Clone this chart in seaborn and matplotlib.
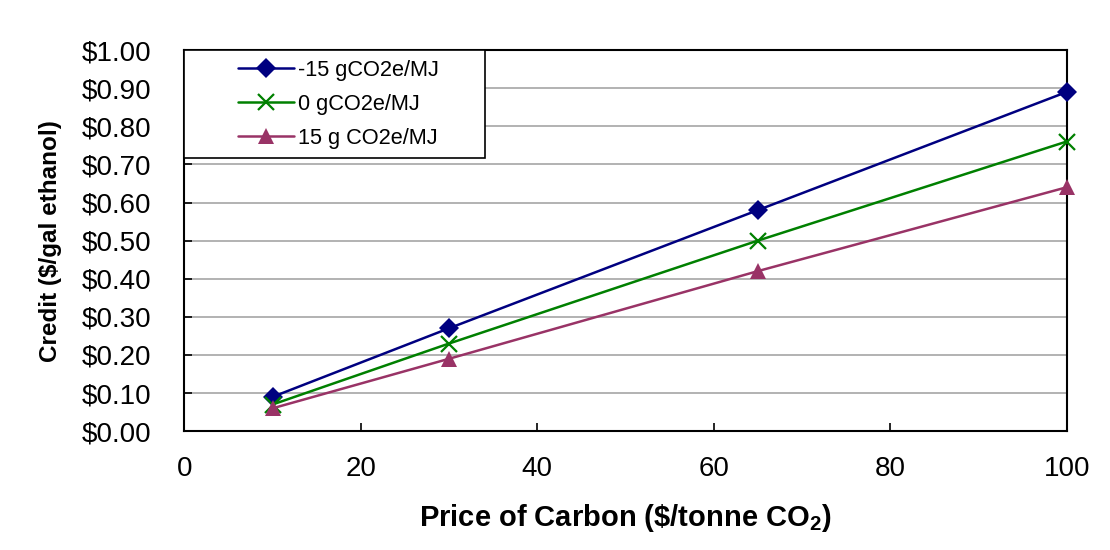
"""Crédito por galón de etanol según el precio del carbono."""

import matplotlib
matplotlib.use('Agg')
import matplotlib.pyplot as plt
import seaborn as sns
import pandas as pd
from matplotlib.patches import Rectangle
from matplotlib.ticker import FuncFormatter

# Datos
carbon_price = [10, 30, 65, 100]
credit_m15 = [0.09, 0.27, 0.58, 0.89]
credit_0 = [0.07, 0.23, 0.50, 0.76]
credit_p15 = [0.06, 0.19, 0.42, 0.64]
series_names = ['-15 gCO2e/MJ', '0 gCO2e/MJ', '15 g CO2e/MJ']

sns.set_style('white')
plt.rcParams['font.family'] = ['Liberation Sans', 'DejaVu Sans']
plt.rcParams['mathtext.default'] = 'regular'
plt.rcParams['text.color'] = 'black'

fig = plt.figure(figsize=(11.1, 5.5), dpi=100)
ax = fig.add_axes([0.166, 0.216, 0.795, 0.693])

styles = [
    (credit_m15, '#000080', 'D', 10),
    (credit_0, '#008000', 'x', 11),
    (credit_p15, '#993366', '^', 12),
]
handles = []
for (vals, color, marker, ms), name in zip(styles, series_names):
    df = pd.DataFrame({'x': carbon_price, 'y': vals})
    mew = 1.6 if marker == 'x' else 0
    sns.lineplot(data=df, x='x', y='y', ax=ax, color=color, linewidth=1.8,
                 marker=marker, markersize=ms, markeredgewidth=mew,
                 markeredgecolor=color, zorder=3, clip_on=False)
    handles.append(plt.Line2D([], [], color=color, marker=marker, markersize=ms,
                              markeredgewidth=mew, markeredgecolor=color, linewidth=1.8))

ax.set_xlim(0, 100)
ax.set_ylim(0, 1.0)
ax.set_xticks(range(0, 101, 20))
ax.set_yticks([i / 10 for i in range(11)])
ax.yaxis.set_major_formatter(FuncFormatter(lambda v, p: f'${v:.2f}'))
ax.grid(axis='y', color='#a6a6a6', linewidth=1.2)
ax.set_axisbelow(True)
for s in ax.spines.values():
    s.set_color('black')
    s.set_linewidth(1.5)
ax.tick_params(axis='both', direction='in', length=6, width=1.2, labelsize=20,
               colors='black', bottom=True, left=True)
ax.tick_params(axis='x', pad=18)
ax.tick_params(axis='y', pad=24)

ax.set_xlabel(r'Price of Carbon (\$/tonne CO$_2$)', fontsize=21, fontweight='bold',
              labelpad=14, color='black')
ax.set_ylabel('Credit ($/gal ethanol)', fontsize=17.5, fontweight='bold',
              labelpad=14, color='black')

# Recuadro de la leyenda con margen izquierdo amplio
ax.add_patch(Rectangle((0, 0.716), 0.341, 0.284, transform=ax.transAxes,
                       facecolor='white', edgecolor='black', linewidth=1.2,
                       zorder=4, clip_on=False))
leg = ax.legend(handles, series_names, loc='upper left', bbox_to_anchor=(0.061, 0.975),
                fontsize=15.7, frameon=False, borderpad=0, labelspacing=0.6,
                handlelength=2.55, handletextpad=0.2, borderaxespad=0)
leg.set_zorder(5)

fig.savefig('out.png', dpi=100)
